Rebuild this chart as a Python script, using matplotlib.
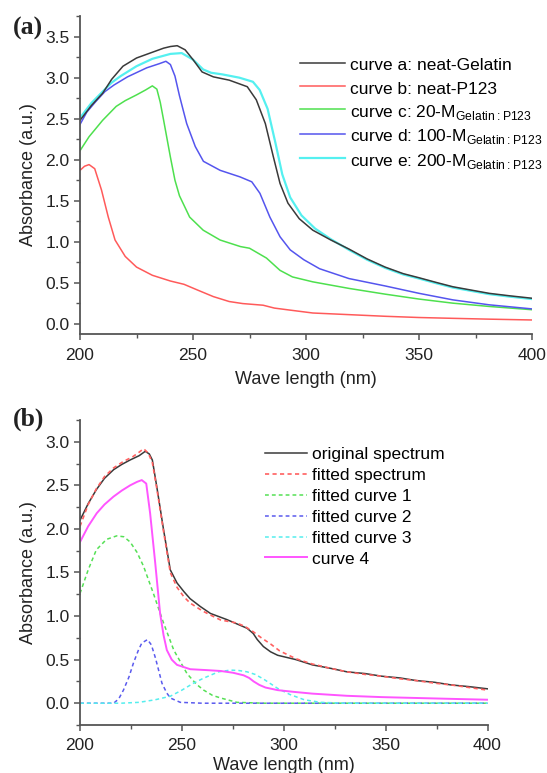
import matplotlib
matplotlib.use("Agg")
import matplotlib.pyplot as plt
from matplotlib.ticker import MultipleLocator

plt.rcParams['font.family'] = ['Liberation Sans', 'DejaVu Sans']
plt.rcParams['mathtext.fontset'] = 'custom'
plt.rcParams['mathtext.rm'] = 'Liberation Sans'

# ---- panel (a) data ----
a_x = [200, 205, 210, 214, 219, 225, 232, 237, 240, 243, 246.5, 250, 254, 259, 266, 274, 278, 282, 285.5, 288.5,
       292, 297, 303, 311, 319, 327, 335, 343, 350, 358, 365, 373, 381, 390, 400]
a_y = [2.48, 2.66, 2.81, 2.98, 3.14, 3.24, 3.31, 3.36, 3.38, 3.39, 3.34, 3.22, 3.07, 3.01, 2.97, 2.89, 2.73, 2.44,
       2.04, 1.71, 1.47, 1.28, 1.14, 1.02, 0.91, 0.79, 0.69, 0.61, 0.56, 0.50, 0.45, 0.41, 0.37, 0.34, 0.31]

b_x = [200, 202, 204, 206.5, 209.5, 212.5, 215.5, 220, 225, 232, 240, 246, 252, 259, 266, 272, 281, 286, 293,
       303, 319, 335, 350, 365, 381, 400]
b_y = [1.87, 1.92, 1.94, 1.89, 1.63, 1.30, 1.02, 0.82, 0.69, 0.59, 0.52, 0.48, 0.41, 0.33, 0.27, 0.245, 0.225, 0.19,
       0.165, 0.13, 0.11, 0.09, 0.075, 0.065, 0.055, 0.045]

c_x = [200, 204, 210, 216, 220, 225, 229, 232, 234, 235.5, 237, 240, 242, 244, 248.5, 254.5, 262, 271, 275, 282.5,
       288.5, 294, 303, 319, 335, 350, 365, 381, 400]
c_y = [2.11, 2.28, 2.48, 2.65, 2.72, 2.79, 2.85, 2.90, 2.86, 2.70, 2.48, 2.03, 1.75, 1.56, 1.30, 1.14, 1.02, 0.94,
       0.92, 0.80, 0.65, 0.57, 0.51, 0.43, 0.36, 0.30, 0.25, 0.21, 0.17]

d_x = [200, 203, 207, 211, 215, 221, 229.5, 235, 238, 240, 242, 244, 245.5, 247.2, 251, 254.6, 262, 270.8, 276,
       279.6, 284, 288.5, 293, 299, 306, 319, 335, 350, 365, 381, 400]
d_y = [2.43, 2.58, 2.71, 2.83, 2.91, 3.01, 3.12, 3.17, 3.20, 3.16, 3.02, 2.78, 2.62, 2.44, 2.16, 1.98, 1.87, 1.79,
       1.73, 1.59, 1.30, 1.06, 0.90, 0.78, 0.67, 0.55, 0.46, 0.37, 0.29, 0.23, 0.18]

e_x = [200, 205, 210, 214, 218, 225, 232, 240, 245, 250, 254.5, 258, 263, 270.5, 276.5, 279.5, 283, 286.5, 289.5,
       293, 298, 304, 311, 319, 327, 335, 343, 350, 358, 365, 373, 381, 390, 400]
e_y = [2.51, 2.69, 2.83, 2.94, 3.02, 3.14, 3.23, 3.29, 3.30, 3.22, 3.10, 3.06, 3.04, 3.00, 2.95, 2.85, 2.62, 2.20,
       1.82, 1.54, 1.32, 1.16, 1.03, 0.90, 0.78, 0.68, 0.60, 0.55, 0.49, 0.44, 0.40, 0.36, 0.33, 0.30]

# ---- panel (b) data ----
orig_x = [200, 204, 208, 212, 216.5, 220.5, 224.5, 229, 232, 234, 235.5, 237.7, 241, 244.3, 247.6, 251, 254, 259,
          264, 272, 282, 285, 287, 290, 293.5, 297, 306, 314, 323, 331, 340, 348, 357, 365, 374, 382, 391, 400]
orig_y = [2.10, 2.29, 2.45, 2.58, 2.68, 2.74, 2.79, 2.84, 2.89, 2.86, 2.79, 2.48, 1.99, 1.53, 1.38, 1.28, 1.20,
          1.11, 1.03, 0.96, 0.86, 0.80, 0.73, 0.65, 0.59, 0.55, 0.50, 0.44, 0.40, 0.36, 0.34, 0.31, 0.29, 0.26,
          0.24, 0.21, 0.19, 0.165]

fit_x = [200, 204, 208, 212, 216.5, 221, 226, 229, 231.2, 233.5, 235.5, 237.7, 241, 244.3, 247.6, 251, 254, 260,
         265, 269, 277, 281, 285, 289, 293.5, 298, 306, 314, 323, 331, 340, 348, 357, 365, 374, 382, 391, 400]
fit_y = [2.03, 2.28, 2.46, 2.60, 2.70, 2.77, 2.83, 2.88, 2.92, 2.87, 2.76, 2.46, 1.97, 1.50, 1.33, 1.22, 1.15,
         1.06, 1.00, 0.955, 0.92, 0.88, 0.82, 0.75, 0.68, 0.60, 0.51, 0.45, 0.40, 0.36, 0.33, 0.31, 0.28, 0.26,
         0.23, 0.21, 0.18, 0.15]

fit1_x = [200, 204, 208, 213, 218, 221.5, 224.6, 228, 231.2, 236, 241, 246, 252.5, 257, 260.7, 265, 269, 277, 290,
          400]
fit1_y = [1.26, 1.53, 1.76, 1.88, 1.92, 1.91, 1.85, 1.73, 1.57, 1.26, 0.92, 0.61, 0.34, 0.22, 0.15, 0.09, 0.06,
          0.01, 0.0, 0.0]

fit2_x = [200, 216.5, 219, 221.3, 224, 226.2, 228.5, 230.3, 233.1, 235, 237, 239, 240.2, 242.5, 244.3, 249.2,
          260, 400]
fit2_y = [0.0, 0.0, 0.05, 0.15, 0.30, 0.46, 0.60, 0.69, 0.73, 0.67, 0.52, 0.34, 0.23, 0.12, 0.06, 0.01, 0.0, 0.0]

fit3_x = [200, 220, 229, 237, 244.3, 250, 255.7, 260, 263.9, 268, 273.8, 278, 282, 286, 290.2, 297, 303, 310,
          318, 330, 400]
fit3_y = [0.0, 0.0, 0.01, 0.04, 0.08, 0.15, 0.23, 0.28, 0.32, 0.36, 0.38, 0.375, 0.36, 0.33, 0.275, 0.17, 0.10,
          0.04, 0.01, 0.0, 0.0]

c4_x = [200, 204, 208.2, 212, 216.4, 220.5, 224.6, 228, 230.3, 232.5, 234.4, 236.9, 239.3, 241, 242.6, 245,
        247.6, 254.1, 262, 268.9, 275, 280.3, 283, 285.2, 288, 291, 297, 305, 314, 331, 348, 365, 382, 400]
c4_y = [1.85, 2.03, 2.18, 2.28, 2.37, 2.44, 2.50, 2.54, 2.56, 2.52, 2.18, 1.61, 1.03, 0.78, 0.61, 0.50, 0.44,
        0.39, 0.38, 0.37, 0.35, 0.32, 0.29, 0.25, 0.21, 0.18, 0.15, 0.13, 0.11, 0.085, 0.07, 0.06, 0.05, 0.04]

sub = r'$_{\mathregular{Gelatin:P123}}$'
labels_a = ['curve a: neat-Gelatin', 'curve b: neat-P123', 'curve c: 20-M' + sub,
            'curve d: 100-M' + sub, 'curve e: 200-M' + sub]
labels_b = ['original spectrum', 'fitted spectrum', 'fitted curve 1', 'fitted curve 2',
            'fitted curve 3', 'curve 4']

fig = plt.figure(figsize=(5.47, 7.73), dpi=100)


def style_axes(ax, ylim, yticks):
    ax.spines['top'].set_visible(False)
    ax.spines['right'].set_visible(False)
    for s in ['left', 'bottom']:
        ax.spines[s].set_color('#555555')
        ax.spines[s].set_linewidth(1.3)
    ax.set_xlim(200, 400)
    ax.set_ylim(*ylim)
    ax.set_yticks(yticks)
    ax.xaxis.set_major_locator(MultipleLocator(50))
    ax.xaxis.set_minor_locator(MultipleLocator(25))
    ax.yaxis.set_minor_locator(MultipleLocator(0.25))
    ax.tick_params(which='major', direction='out', length=4.5, width=1.1, color='#555555',
                   labelsize=12.5, labelcolor='#222222')
    ax.tick_params(axis='x', which='major', pad=5)
    ax.tick_params(axis='y', which='major', pad=3)
    ax.tick_params(which='minor', direction='out', length=2.8, width=1.0, color='#555555')
    ax.set_ylabel('Absorbance (a.u.)', fontsize=13, color='#222222', labelpad=6)


# panel (a)
ax1 = fig.add_axes([0.1463, 0.5675, 0.8263, 0.4122])
ax1.plot(b_x, b_y, color='#ff5a5a', lw=1.1, label=labels_a[1])
ax1.plot(c_x, c_y, color='#4ee04e', lw=1.1, label=labels_a[2])
ax1.plot(d_x, d_y, color='#5555ee', lw=1.1, label=labels_a[3])
ax1.plot(e_x, e_y, color='#55f0f0', lw=1.6, label=labels_a[4])
ax1.plot(a_x, a_y, color='#3a3a3a', lw=1.1, label=labels_a[0])
style_axes(ax1, (-0.13, 3.756), [0.0, 0.5, 1.0, 1.5, 2.0, 2.5, 3.0, 3.5])
ax1.set_xlabel('Wave length (nm)', fontsize=13, color='#222222', labelpad=6)
h, l = ax1.get_legend_handles_labels()
order = [4, 0, 1, 2, 3]
ax1.legend([h[i] for i in order], [l[i] for i in order], loc='upper left', frameon=False,
           bbox_to_anchor=(300 / 547, 1 - 55 / 773), bbox_transform=fig.transFigure,
           borderpad=0, borderaxespad=0, fontsize=12.5, handlelength=2.6, handletextpad=0.3,
           handleheight=1.3, labelspacing=0.25)
fig.text(13 / 547, 1 - 28 / 773, '(a)', family='Liberation Serif', weight='bold', fontsize=18.5,
         va='center', ha='left', color='#222222')

# panel (b)
ax2 = fig.add_axes([0.1463, 0.0621, 0.745, 0.3946])
dash = (2.5, 2)
ax2.plot(fit1_x, fit1_y, color='#55e055', lw=1.1, dashes=dash, label=labels_b[2])
ax2.plot(fit2_x, fit2_y, color='#5a5aee', lw=1.1, dashes=dash, label=labels_b[3])
ax2.plot(fit3_x, fit3_y, color='#55eeee', lw=1.1, dashes=dash, label=labels_b[4])
ax2.plot(c4_x, c4_y, color='#ff55ff', lw=1.4, label=labels_b[5])
ax2.plot(orig_x, orig_y, color='#3a3a3a', lw=1.1, label=labels_b[0])
ax2.plot(fit_x, fit_y, color='#ff6060', lw=1.2, dashes=dash, label=labels_b[1])
style_axes(ax2, (-0.25, 3.25), [0.0, 0.5, 1.0, 1.5, 2.0, 2.5, 3.0])
ax2.set_xlabel('Wave length (nm)', fontsize=13, color='#222222', labelpad=3)
h, l = ax2.get_legend_handles_labels()
order = [4, 5, 0, 1, 2, 3]
ax2.legend([h[i] for i in order], [l[i] for i in order], loc='upper left', frameon=False,
           bbox_to_anchor=(265 / 547, 1 - 447 / 773), bbox_transform=fig.transFigure,
           borderpad=0, borderaxespad=0, fontsize=12.5, handlelength=2.4, handletextpad=0.3,
           labelspacing=0.33)
fig.text(13 / 547, 1 - 419 / 773, '(b)', family='Liberation Serif', weight='bold', fontsize=18.5,
         va='center', ha='left', color='#222222')

fig.savefig('out.png', dpi=100)
